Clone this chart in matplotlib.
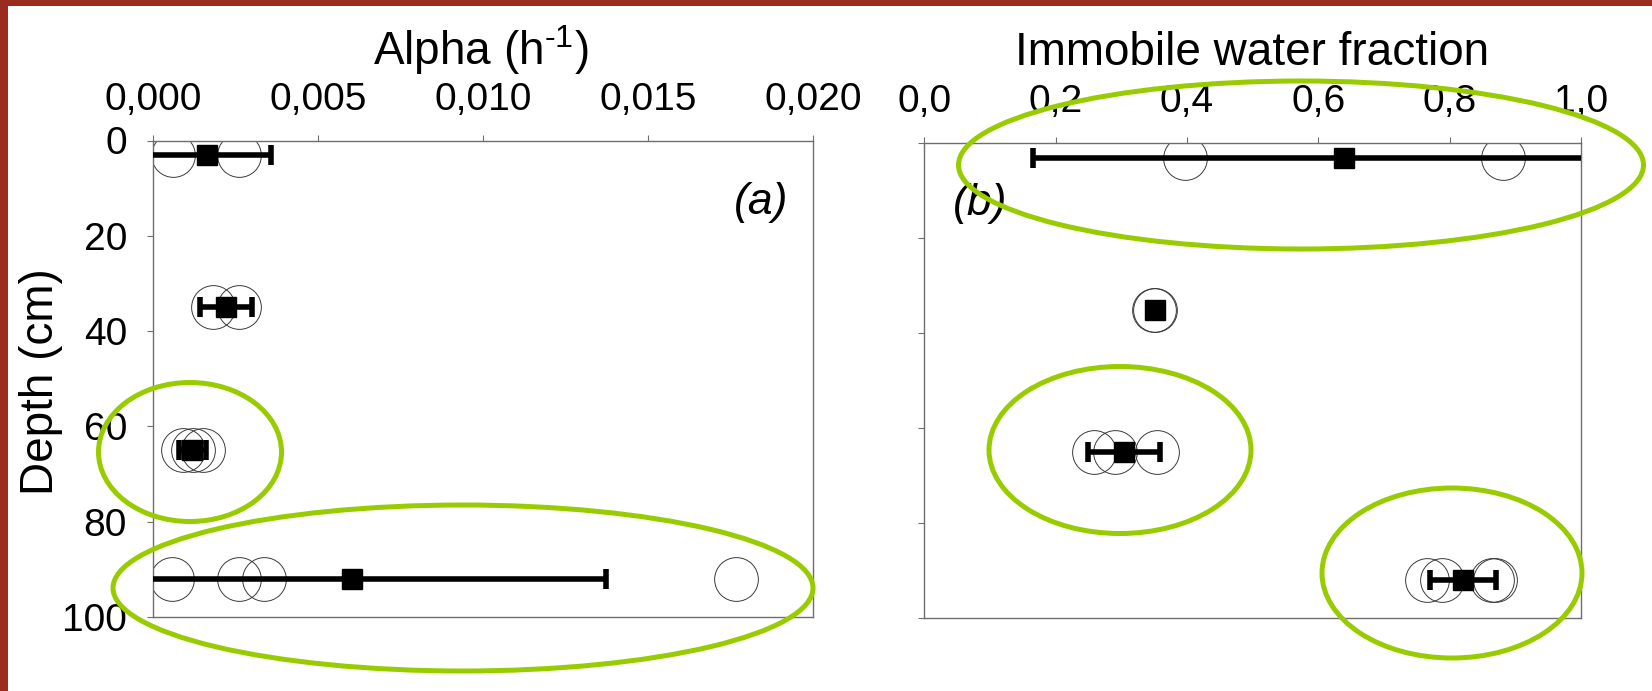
import matplotlib
matplotlib.use("Agg")
import matplotlib.pyplot as plt
from matplotlib.patches import Ellipse, Rectangle

plt.rcParams['font.family'] = 'Liberation Sans'
plt.rcParams['mathtext.fontset'] = 'custom'
plt.rcParams['mathtext.rm'] = 'Liberation Sans'
plt.rcParams['mathtext.it'] = 'Liberation Sans:italic'

# depths of the four sampling layers (cm)
depths = [3, 35, 65, 92]

# (a) alpha, single replicates per depth and mean +- sd
alpha_points = [[0.00062, 0.00262],
                [0.00184, 0.00262],
                [0.00093, 0.00122, 0.00151],
                [0.00057, 0.00260, 0.00337, 0.01767]]
alpha_mean = [0.00164, 0.00222, 0.00120, 0.00605]
alpha_err = [0.00194, 0.00079, 0.00040, 0.00769]
alpha_ticks = [0.0, 0.005, 0.010, 0.015, 0.020]
alpha_labels = ['0,000', '0,005', '0,010', '0,015', '0,020']

# (b) immobile water fraction
frac_points = [[0.397, 0.881],
               [0.350, 0.352],
               [0.258, 0.290, 0.355],
               [0.766, 0.788, 0.865, 0.869]]
frac_mean = [0.639, 0.351, 0.304, 0.820]
frac_err = [0.473, 0.0, 0.055, 0.050]
frac_ticks = [0.0, 0.2, 0.4, 0.6, 0.8, 1.0]
frac_labels = ['0,0', '0,2', '0,4', '0,6', '0,8', '1,0']

depth_ticks = [0, 20, 40, 60, 80, 100]
depth_labels = ['0', '20', '40', '60', '80', '100']

W, H = 1652, 691
fig = plt.figure(figsize=(W / 100, H / 100), dpi=100)
fig.patch.set_facecolor('white')

def px(x0, y0, x1, y1):
    # pixel box (top-left origin) -> figure fraction rect
    return [x0 / W, 1 - y1 / H, (x1 - x0) / W, (y1 - y0) / H]

ax1 = fig.add_axes(px(152.7, 140.5, 813, 617))
ax2 = fig.add_axes(px(924.3, 143.3, 1581, 618.3))

spine_col = '#6e6e6e'

def draw_panel(ax, points, mean, err, xlim, ticks, labels):
    for d, pts in zip(depths, points):
        ax.plot(pts, [d] * len(pts), 'o', ms=31.5, mfc='none', mec='#3a3a3a', mew=0.7, zorder=2)
    eb = ax.errorbar(mean, depths, xerr=err, fmt='s', ms=14, color='black', ecolor='black',
                     elinewidth=4.0, capsize=7.5, capthick=4.0, zorder=3)
    for cap in eb[1]:
        cap.set_solid_capstyle('round')
    ax.set_xlim(xlim)
    ax.set_ylim(100, 0)
    ax.xaxis.tick_top()
    ax.set_xticks(ticks)
    ax.set_xticklabels(labels)
    ax.set_yticks(depth_ticks)
    for s in ax.spines.values():
        s.set_color(spine_col)
        s.set_linewidth(1.0)
    ax.tick_params(axis='x', direction='out', length=4.5, color=spine_col, labelsize=28, pad=12)
    ax.tick_params(axis='y', direction='out', length=4.5, color=spine_col, labelsize=28, pad=14)

draw_panel(ax1, alpha_points, alpha_mean, alpha_err, (0, 0.02), alpha_ticks, alpha_labels)
ax1.set_yticklabels(depth_labels)
draw_panel(ax2, frac_points, frac_mean, frac_err, (0, 1.0), frac_ticks, frac_labels)
ax2.set_yticklabels([])

ax1.text(0.01843, 13.1, '(a)', fontsize=32, style='italic', ha='center', va='center')
ax2.text(0.0848, 12.6, '(b)', fontsize=32, style='italic', ha='center', va='center')

fig.text(481 / W, 1 - 65 / H, r'Alpha (h$^{\text{-1}}$)', fontsize=33, ha='center', va='baseline')
fig.text(1252 / W, 1 - 65 / H, 'Immobile water fraction', fontsize=33, ha='center', va='baseline')
fig.text(41 / W, 1 - 382 / H, 'Depth (cm)', fontsize=33, rotation=90, ha='center', va='center')

# green highlight ellipses (pixel centre, width, height)
ellipses = [(190, 452, 183, 139),
            (463, 588, 700, 166),
            (1301, 165, 685, 168),
            (1120, 450, 262, 167),
            (1452, 573, 260, 170)]
for cx, cy, w, h in ellipses:
    e = Ellipse((cx / W, 1 - cy / H), w / W, h / H, transform=fig.transFigure,
                fill=False, edgecolor='#99cc00', linewidth=3.6, zorder=5)
    fig.add_artist(e)

# dark red frame on top and left edge
fig.add_artist(Rectangle((0, 1 - 6 / H), 1, 6 / H, transform=fig.transFigure,
                         facecolor='#9c2b1f', edgecolor='none', zorder=6))
fig.add_artist(Rectangle((0, 0), 8 / W, 1, transform=fig.transFigure,
                         facecolor='#9c2b1f', edgecolor='none', zorder=6))

fig.savefig('out.png', dpi=100)
